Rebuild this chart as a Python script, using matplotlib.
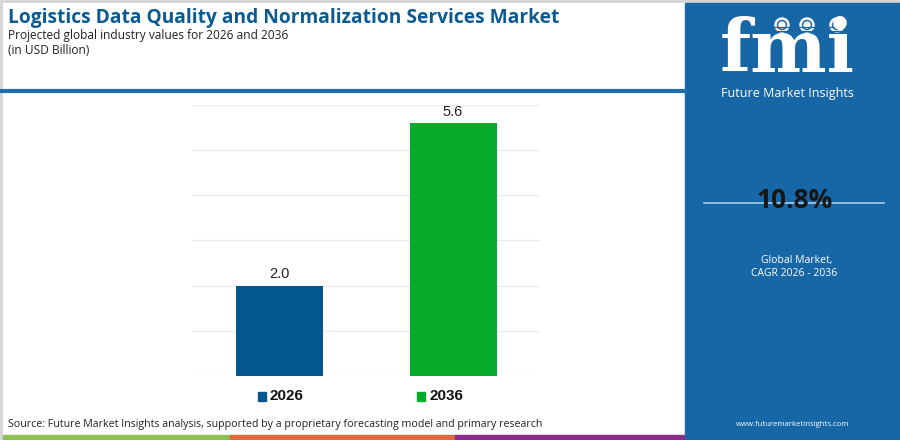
import matplotlib.pyplot as plt
from matplotlib.patches import Rectangle, Circle

# data
years = ['2026', '2036']
values = [2.0, 5.6]
bar_colors = ['#04578c', '#06ab2b']
cagr = '10.8%'
title = 'Logistics Data Quality and Normalization Services Market'
subtitle = 'Projected global industry values for 2026 and 2036'
unit = '(in USD Billion)'
source = ('Source: Future Market Insights analysis, supported by a proprietary '
          'forecasting model and primary research')

W, H = 900, 440
fig = plt.figure(figsize=(9, 4.4), dpi=100)
fig.patch.set_facecolor('white')

# overlay in pixel coordinates for the page decoration
deco = fig.add_axes([0, 0, 1, 1])
deco.set_xlim(0, W)
deco.set_ylim(H, 0)
deco.axis('off')

# frame
deco.add_patch(Rectangle((1, 1), W - 2, H - 2, fill=False, edgecolor='#d4d4d4',
                         linewidth=2, zorder=0))

# chart
ax = fig.add_axes([192 / W, 1 - 376 / H, 348 / W, 271 / H])
x = list(range(len(years)))
bars = ax.bar(x, values, width=0.5, color=bar_colors, zorder=3)
for b, v in zip(bars, values):
    ax.text(b.get_x() + b.get_width() / 2, v + 0.1, f'{v:.1f}',
            ha='center', va='bottom', fontsize=10.5, color='#222222',
            family='Liberation Sans')
ax.set_xlim(-0.5, 1.5)
ax.set_ylim(0, 6)
ax.set_yticks(range(0, 7))
ax.grid(axis='y', color='#ececec', linewidth=1, zorder=0)
ax.tick_params(left=False, bottom=False, labelleft=False, labelbottom=False)
for s in ax.spines.values():
    s.set_visible(False)

# legend
for i, (yr, c) in enumerate(zip(years, bar_colors)):
    x0 = 258 + i * 159
    deco.add_patch(Rectangle((x0, 392), 8, 9, color=c))
    deco.text(x0 + 12, 396, yr, fontsize=11, fontweight='bold',
              family='Liberation Sans', va='center', ha='left', color='#111111')

# header
deco.text(8, 18, title, fontsize=13.8, fontweight='bold', color='#0b5a90',
          family='Open Sans', va='center', ha='left')
deco.text(8, 36, subtitle, fontsize=8.6, color='#222222',
          family='Open Sans', va='center', ha='left')
deco.text(8, 51, unit, fontsize=8.6, color='#222222',
          family='Open Sans', va='center', ha='left')
deco.plot([0, 686], [91, 91], color='#1f6fae', linewidth=3)

# source and stripe
deco.text(8, 424, source, fontsize=7.65, color='#222222',
          family='Open Sans', va='center', ha='left')
for x0, x1, c in [(3, 230, '#8cc152'), (230, 455, '#e4683a'), (455, 684, '#8e2b8e')]:
    deco.add_patch(Rectangle((x0, 435), x1 - x0, 4, color=c, zorder=3))

# right panel
panel = '#1766a6'
deco.add_patch(Rectangle((685, 3), 215, 437, color=panel))
deco.text(787, 51, 'fmi', fontsize=52, fontweight='bold', color='white',
          family='DejaVu Serif', va='center', ha='center')
for yy in range(27, 78, 4):
    deco.plot([712, 862], [yy, yy], color=panel, linewidth=0.9)
for cx in [782, 807, 837]:
    deco.add_patch(Circle((cx, 25), 7, color='white'))
    deco.add_patch(Circle((cx, 25), 4.5, color=panel))
    deco.add_patch(Circle((cx, 25), 3, color='white'))
deco.text(787, 93, 'Future Market Insights', fontsize=9, color='white',
          family='Open Sans', va='center', ha='center')
deco.plot([704, 884], [203, 203], color='#a9cce8', linewidth=1.2)
deco.text(795, 200, cagr, fontsize=19, fontweight='bold', color='#161616',
          family='Open Sans', va='center', ha='center')
deco.text(797, 261, 'Global Market,', fontsize=7.5, color='white',
          family='Open Sans', va='center', ha='center')
deco.text(794, 273, 'CAGR 2026 - 2036', fontsize=7.5, color='white',
          family='Open Sans', va='center', ha='center')
deco.text(793, 424, 'www.futuremarketinsights.com', fontsize=5.6, color='white',
          family='Open Sans', va='center', ha='center')

fig.savefig('out.png', dpi=100)
